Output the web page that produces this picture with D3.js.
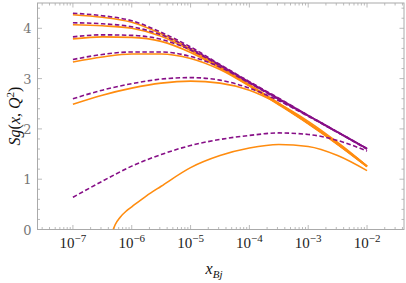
<!DOCTYPE html>
<html><head><meta charset="utf-8">
<script src="https://cdn.jsdelivr.net/npm/d3@7/dist/d3.min.js"></script>
<style>html,body{margin:0;padding:0;background:#fff;}svg{display:block;}</style>
</head><body>
<svg id="c" width="406" height="283"></svg>
<script>
// x grid (x_Bj) for the curves
const xGrid = [1e-7, 3.162e-7, 1e-6, 3.162e-6, 1e-5, 3.162e-5, 1e-4, 3.162e-4, 1e-3, 3.162e-3, 1e-2];
const xGridLow = [4.84e-7, 5.25e-7, 6.31e-7, 8.13e-7, 1e-6, 1.78e-6, 3.162e-6, 1e-5, 3.162e-5, 1e-4, 3.162e-4, 1e-3, 3.162e-3, 1e-2];

// purple dashed series
const purple1 = [4.30, 4.25, 4.15, 3.92, 3.63, 3.28, 2.94, 2.61, 2.27, 1.94, 1.61];
const purple2 = [4.11, 4.09, 4.03, 3.87, 3.60, 3.27, 2.93, 2.60, 2.27, 1.94, 1.61];
const purple3 = [3.83, 3.87, 3.86, 3.78, 3.57, 3.26, 2.92, 2.59, 2.26, 1.93, 1.61];
const purple4 = [3.38, 3.48, 3.53, 3.53, 3.44, 3.23, 2.91, 2.58, 2.26, 1.93, 1.60];
const purple5 = [2.60, 2.77, 2.90, 2.99, 3.02, 2.97, 2.81, 2.56, 2.25, 1.93, 1.60];
const purple6 = [0.64, 0.96, 1.26, 1.49, 1.67, 1.79, 1.87, 1.92, 1.89, 1.77, 1.56];

// orange solid series
const orange1 = [4.27, 4.22, 4.12, 3.89, 3.59, 3.24, 2.88, 2.51, 2.12, 1.71, 1.26];
const orange2 = [4.07, 4.05, 4.00, 3.84, 3.56, 3.22, 2.87, 2.50, 2.11, 1.70, 1.26];
const orange3 = [3.79, 3.83, 3.82, 3.74, 3.52, 3.21, 2.86, 2.49, 2.11, 1.70, 1.25];
const orange4 = [3.33, 3.43, 3.49, 3.49, 3.40, 3.18, 2.85, 2.48, 2.10, 1.69, 1.25];
const orange5 = [2.49, 2.67, 2.81, 2.91, 2.95, 2.91, 2.77, 2.50, 2.15, 1.73, 1.26];
const orange6 = [0.00, 0.10, 0.24, 0.37, 0.45, 0.67, 0.86, 1.23, 1.47, 1.62, 1.69, 1.65, 1.47, 1.17];

// ticks
const xTickExps = [-7, -6, -5, -4, -3, -2];
const yTicks = [0, 1, 2, 3, 4];

const svg = d3.select("#c");
const L = 37.5, R = 404, T = 3, B = 229.5;
const x = d3.scaleLog().domain([2.5e-8, 0.0425]).range([L, R]);
const y = d3.scaleLinear().domain([0, 4.503]).range([B, T]);

const frameColor = "#aaaaaa";
const orangeC = "#ff8c0f";
const purpleC = "#870f87";

svg.append("defs").append("clipPath").attr("id", "clip")
  .append("rect").attr("x", L).attr("y", T).attr("width", R - L).attr("height", B - T);

const xMajor = xTickExps.map(e => Math.pow(10, e));
const xMinor = [];
for (let e = -8; e <= -2; e++) for (let m = 2; m <= 9; m++) {
  const v = m * Math.pow(10, e);
  if (v >= x.domain()[0] && v <= x.domain()[1]) xMinor.push(v);
}
const yMinor = d3.range(0, 4.51, 0.2).filter(v => Math.abs(v - Math.round(v)) > 1e-6);

const g = svg.append("g");
function tickLines(vals, len, isX) {
  vals.forEach(v => {
    if (isX) {
      const px = x(v);
      g.append("line").attr("x1", px).attr("x2", px).attr("y1", B).attr("y2", B - len).attr("stroke", frameColor).attr("stroke-width", 0.8);
      g.append("line").attr("x1", px).attr("x2", px).attr("y1", T).attr("y2", T + len).attr("stroke", frameColor).attr("stroke-width", 0.8);
    } else {
      const py = y(v);
      g.append("line").attr("x1", L).attr("x2", L + len).attr("y1", py).attr("y2", py).attr("stroke", frameColor).attr("stroke-width", 0.8);
      g.append("line").attr("x1", R).attr("x2", R - len).attr("y1", py).attr("y2", py).attr("stroke", frameColor).attr("stroke-width", 0.8);
    }
  });
}
tickLines(xMajor, 4.5, true);
tickLines(xMinor, 2.5, true);
tickLines(yTicks, 4.5, false);
tickLines(yMinor, 2.5, false);

svg.append("rect").attr("x", L).attr("y", T).attr("width", R - L).attr("height", B - T)
  .attr("fill", "none").attr("stroke", frameColor).attr("stroke-width", 1);

yTicks.forEach(v => {
  svg.append("text").attr("x", L - 6).attr("y", y(v) + 5)
    .attr("text-anchor", "end").attr("font-family", "DejaVu Serif")
    .attr("font-size", 13).attr("fill", "#777").text(v);
});
xTickExps.forEach(e => {
  const t = svg.append("text").attr("x", x(Math.pow(10, e))).attr("y", 248)
    .attr("text-anchor", "middle").attr("font-family", "serif")
    .attr("font-size", 15).attr("fill", "#222");
  t.append("tspan").text("10");
  t.append("tspan").attr("dy", -6).attr("font-size", 11).text("\u2212" + Math.abs(e));
});

const line = d3.line().x(d => x(d[0])).y(d => y(d[1])).curve(d3.curveMonotoneX);
const plot = svg.append("g").attr("clip-path", "url(#clip)");
const oranges = [[xGrid, orange1], [xGrid, orange2], [xGrid, orange3], [xGrid, orange4], [xGrid, orange5], [xGridLow, orange6]];
const purples = [purple1, purple2, purple3, purple4, purple5, purple6];
oranges.forEach(([xs, ys]) => {
  plot.append("path").attr("d", line(xs.map((v, i) => [v, ys[i]])))
    .attr("fill", "none").attr("stroke", orangeC).attr("stroke-width", 1.6);
});
purples.forEach(ys => {
  plot.append("path").attr("d", line(xGrid.map((v, i) => [v, ys[i]])))
    .attr("fill", "none").attr("stroke", purpleC).attr("stroke-width", 1.6)
    .attr("stroke-dasharray", "4.5,2.5");
});

const yl = svg.append("text").attr("transform", "translate(20,116) rotate(-90)")
  .attr("text-anchor", "middle").attr("font-family", "Liberation Serif")
  .attr("font-size", 16).attr("fill", "#111");
yl.append("tspan").attr("font-style", "italic").text("Sg");
yl.append("tspan").text("(");
yl.append("tspan").attr("font-style", "italic").text("x");
yl.append("tspan").text(", ");
yl.append("tspan").attr("font-style", "italic").text("Q");
yl.append("tspan").attr("dy", -6).attr("font-size", 11).text("2");
yl.append("tspan").attr("dy", 6).text(")");

const xl = svg.append("text").attr("x", 214).attr("y", 274)
  .attr("text-anchor", "middle").attr("font-family", "Liberation Serif")
  .attr("font-size", 16).attr("fill", "#111").attr("font-style", "italic");
xl.append("tspan").text("x");
xl.append("tspan").attr("dy", 4).attr("font-size", 11).text("Bj");
</script>
</body></html>
